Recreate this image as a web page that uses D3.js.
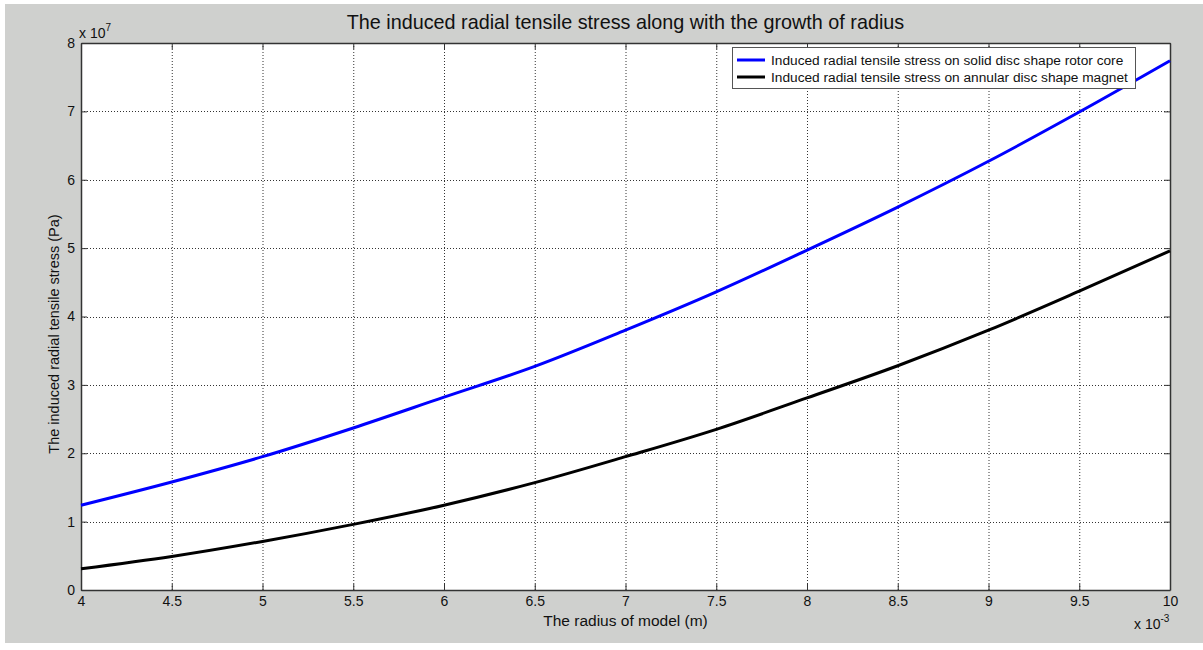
<!DOCTYPE html>
<html><head><meta charset="utf-8">
<script src="https://cdn.jsdelivr.net/npm/d3@7"></script>
<style>
body{margin:0;background:#fff;}
svg{display:block;font-family:"Liberation Sans",Arial,sans-serif;}
</style></head>
<body><svg id="c" width="1203" height="650"></svg>
<script>
const radius = [4,4.5,5,5.5,6,6.5,7,7.5,8,8.5,9,9.5,10]; // x 10^-3 m
const rotorCore = [1.24,1.58,1.95,2.37,2.82,3.27,3.80,4.36,4.97,5.60,6.27,6.99,7.74]; // x 10^7 Pa
const magnet = [0.31,0.49,0.71,0.96,1.24,1.57,1.95,2.35,2.81,3.28,3.80,4.37,4.96]; // x 10^7 Pa
const xTicks = [4,4.5,5,5.5,6,6.5,7,7.5,8,8.5,9,9.5,10];
const yTicks = [0,1,2,3,4,5,6,7,8];
const seriesNames = ["Induced radial tensile stress on solid disc shape rotor core","Induced radial tensile stress on annular disc shape magnet"];
const seriesColors = ["#0000ff","#000000"];

const svg = d3.select("#c");
svg.append("rect").attr("x",5).attr("y",4).attr("width",1198).attr("height",639).attr("fill","#cfd0ce");

const L=81,R=1170,T=43,B=590;
const x = d3.scaleLinear().domain([4,10]).range([L,R]);
const y = d3.scaleLinear().domain([0,8]).range([B,T]);

svg.append("rect").attr("x",L).attr("y",T).attr("width",R-L).attr("height",B-T).attr("fill","#fff");

// grid
const g = svg.append("g");
g.selectAll(".gx").data(xTicks.slice(1,-1)).join("line")
 .attr("x1",d=>x(d)+0.5).attr("x2",d=>x(d)+0.5).attr("y1",T).attr("y2",B)
 .attr("stroke","#333").attr("stroke-dasharray","1,2");
g.selectAll(".gy").data(yTicks.slice(1,-1)).join("line")
 .attr("y1",d=>Math.round(y(d))+0.5).attr("y2",d=>Math.round(y(d))+0.5).attr("x1",L).attr("x2",R)
 .attr("stroke","#333").attr("stroke-dasharray","1,2");

// axes with inward ticks
const fmt = d=>String(d);
const ax = svg.append("g").attr("transform",`translate(0,${B})`)
 .call(d3.axisBottom(x).tickValues(xTicks).tickFormat(fmt).tickSizeInner(-6).tickSizeOuter(0).tickPadding(6));
const axT = svg.append("g").attr("transform",`translate(0,${T})`)
 .call(d3.axisTop(x).tickValues(xTicks).tickFormat("").tickSizeInner(-6).tickSizeOuter(0));
const ay = svg.append("g").attr("transform",`translate(${L},0)`)
 .call(d3.axisLeft(y).tickValues(yTicks).tickFormat(fmt).tickSizeInner(-6).tickSizeOuter(0).tickPadding(6));
const ayR = svg.append("g").attr("transform",`translate(${R},0)`)
 .call(d3.axisRight(y).tickValues(yTicks).tickFormat("").tickSizeInner(-6).tickSizeOuter(0));
[ax,axT,ay,ayR].forEach(a=>{
  a.select(".domain").attr("stroke","#333").attr("stroke-width",1.5);
  a.selectAll(".tick line").attr("stroke","#333");
  a.selectAll("text").attr("font-size",14).attr("fill","#111").attr("font-family","Liberation Sans, Arial, sans-serif");
});

// lines
const line = d3.line().x((d,i)=>x(radius[i])).y(d=>y(d)).curve(d3.curveMonotoneX);
[rotorCore,magnet].forEach((s,k)=>{
  svg.append("path").attr("d",line(s)).attr("fill","none").attr("stroke",seriesColors[k]).attr("stroke-width",3);
});

// legend
const lg = svg.append("g");
lg.append("rect").attr("x",732.5).attr("y",47.5).attr("width",403).attr("height",41).attr("fill","#fff").attr("stroke","#555");
seriesNames.forEach((n,k)=>{
  const yy = 60 + k*17;
  lg.append("line").attr("x1",737).attr("x2",765).attr("y1",yy).attr("y2",yy).attr("stroke",seriesColors[k]).attr("stroke-width",3);
  lg.append("text").attr("x",771).attr("y",yy+5).attr("font-size",13.7).attr("fill","#111").text(n);
});

// titles
svg.append("text").attr("x",(L+R)/2).attr("y",29).attr("text-anchor","middle").attr("font-size",19.8).attr("fill","#111")
 .text("The induced radial tensile stress along with the growth of radius");
svg.append("text").attr("x",(L+R)/2).attr("y",626).attr("text-anchor","middle").attr("font-size",15.5).attr("fill","#111")
 .text("The radius of model (m)");
svg.append("text").attr("transform",`translate(59,334) rotate(-90)`).attr("text-anchor","middle").attr("font-size",14.5).attr("fill","#111")
 .text("The induced radial tensile stress (Pa)");

// exponent labels
const e1 = svg.append("text").attr("x",79).attr("y",38).attr("font-size",14).attr("fill","#111");
e1.append("tspan").text("x 10");
e1.append("tspan").attr("dy",-7).attr("font-size",10).text("7");
const e2 = svg.append("text").attr("x",1134).attr("y",629).attr("font-size",14).attr("fill","#111");
e2.append("tspan").text("x 10");
e2.append("tspan").attr("dy",-7).attr("font-size",10).text("-3");
</script></body></html>
